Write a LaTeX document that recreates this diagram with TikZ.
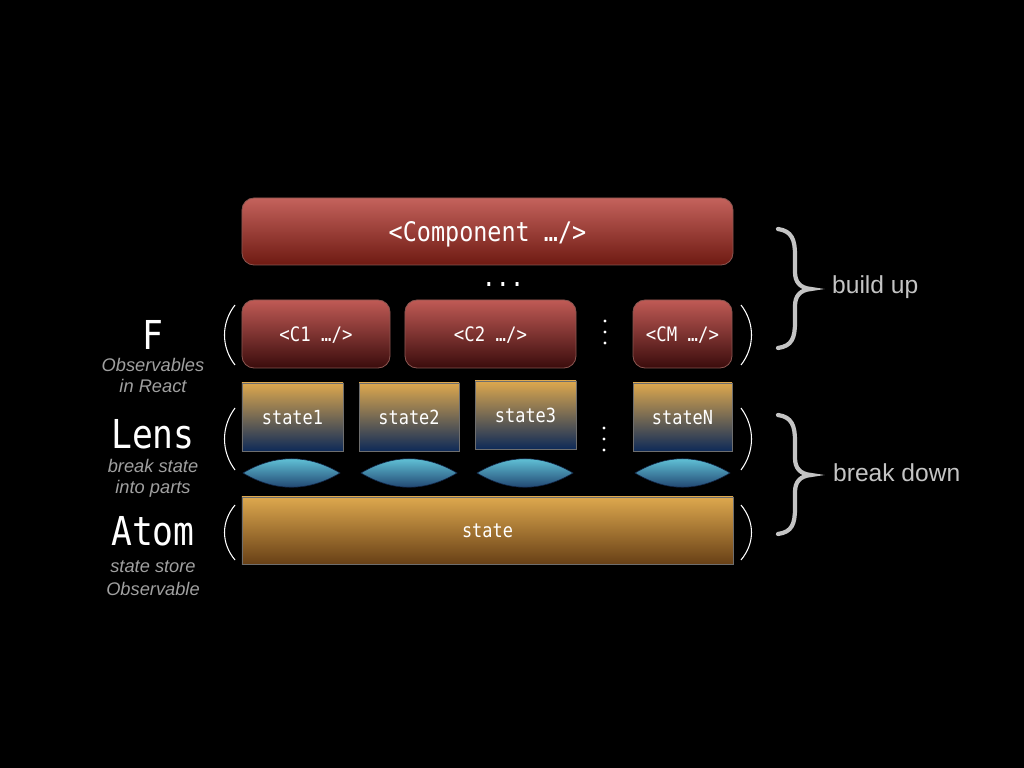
\documentclass[tikz,border=0pt]{standalone}
\usepackage{fontspec}
\setmainfont{Liberation Sans}
\newfontfamily\monof[FakeStretch=0.87]{DejaVu Sans Mono}
\definecolor{compTop}{HTML}{C4625C}
\definecolor{compBot}{HTML}{6E1A12}
\definecolor{cTop}{HTML}{C05A55}
\definecolor{cBot}{HTML}{3A0C0C}
\definecolor{redEdge}{HTML}{8A5550}
\definecolor{boxEdge}{HTML}{6E6E6E}
\definecolor{orTop}{HTML}{DDA84E}
\definecolor{blBot}{HTML}{0E2A58}
\definecolor{atBot}{HTML}{684016}
\definecolor{lensTop}{HTML}{6AD4E6}
\definecolor{lensBot}{HTML}{183462}
\definecolor{labgray}{HTML}{A0A0A0}
\definecolor{bracegray}{HTML}{C4C4C4}
\tikzset{
  boxbase/.style={inner sep=0pt, text=white, text depth=0pt, line width=0.7pt},
  compbox/.style={boxbase, rounded corners=0.36cm, top color=compTop, bottom color=compBot, draw=redEdge,
    font=\monof\fontsize{23}{27}\selectfont, text height=16.8pt},
  cbox/.style={boxbase, rounded corners=0.36cm, top color=cTop, bottom color=cBot, draw=redEdge,
    font=\monof\fontsize{17}{20}\selectfont, text height=12.4pt, minimum height=2.04cm},
  statebox/.style={boxbase, top color=orTop, bottom color=blBot, draw=boxEdge,
    font=\monof\fontsize{16.6}{20}\selectfont, text height=12.1pt, minimum height=2.04cm},
  atombox/.style={boxbase, top color=orTop, bottom color=atBot, draw=boxEdge,
    font=\monof\fontsize{16.6}{20}\selectfont, text height=12.1pt},
  lensshape/.style={top color=lensTop, bottom color=lensBot, draw=lensBot!70!black, line width=0.5pt},
  bigname/.style={anchor=base, text=white, font=\monof\fontsize{34}{40}\selectfont},
  sublabel/.style={anchor=base, text=labgray, font=\itshape\fontsize{15.6}{18}\selectfont},
  sidelabel/.style={anchor=west, text=bracegray, font=\fontsize{21}{25}\selectfont},
  parst/.style={draw=white, line width=0.9pt},
  bracest/.style={draw=bracegray, line width=3.6pt, line cap=round},
  vdot/.style={fill=white, draw=none},
}
\begin{document}
\begin{tikzpicture}[x=0.03cm,y=-0.03cm]
\fill[black] (0,0) rectangle (1024,768);
\useasboundingbox (0,0) rectangle (1024,768);

% top component
\node[compbox, minimum width=14.73cm, minimum height=2.01cm] (comp) at (487.5,231.5) {<Component …/>};
\node[anchor=base, text=white, font=\monof\fontsize{23}{27}\selectfont] (hdots) at (503,287) {...};

% child components
\node[cbox, minimum width=4.44cm] (c1) at (316,334) {<C1 …/>};
\node[cbox, minimum width=5.13cm] (c2) at (490.5,334) {<C2 …/>};
\node[cbox, minimum width=2.97cm] (cm) at (682.5,334) {<CM …/>};
\fill[vdot] (605,321) circle (1.7) (605,332) circle (1.7) (605,343) circle (1.7);

% state parts
\node[statebox, minimum width=3.03cm] (s1) at (292.5,417) {state1};
\node[statebox, minimum width=3.0cm] (s2) at (409,417) {state2};
\node[statebox, minimum width=3.03cm] (s3) at (525.5,415) {state3};
\node[statebox, minimum width=2.97cm] (sn) at (682.5,417) {stateN};
\fill[vdot] (604,428) circle (1.7) (604,439) circle (1.7) (604,450) circle (1.7);

% lenses
\path[lensshape] (243,473) .. controls (275,454) and (308,454) .. (340,473) .. controls (308,492) and (275,492) .. (243,473) -- cycle;
\path[lensshape] (361,473) .. controls (393,454) and (425,454) .. (457,473) .. controls (425,492) and (393,492) .. (361,473) -- cycle;
\path[lensshape] (477,473) .. controls (509,454) and (541,454) .. (573,473) .. controls (541,492) and (509,492) .. (477,473) -- cycle;
\path[lensshape] (635,473) .. controls (667,454) and (698,454) .. (730,473) .. controls (698,492) and (667,492) .. (635,473) -- cycle;

% atom
\node[atombox, minimum width=14.73cm, minimum height=2.01cm] (atom) at (487.5,530.5) {state};

% parentheses
\draw[parst] (235,305) .. controls (221,323) and (221,347) .. (235,365);
\draw[parst] (741,305) .. controls (755,323) and (755,347) .. (741,365);
\draw[parst] (235,408) .. controls (221,427) and (221,451) .. (235,470);
\draw[parst] (741,408) .. controls (755,427) and (755,451) .. (741,470);
\draw[parst] (235,505) .. controls (221,522) and (221,543) .. (235,560);
\draw[parst] (741,505) .. controls (755,522) and (755,543) .. (741,560);

% left labels
\node[bigname] (lf) at (153,350) {F};
\node[sublabel] (lf1) at (153,371.5) {Observables};
\node[sublabel] (lf2) at (153,392.5) {in React};
\node[bigname] (ll) at (153,449) {Lens};
\node[sublabel] (ll1) at (153,472.5) {break state};
\node[sublabel] (ll2) at (153,493.5) {into parts};
\node[bigname] (la) at (153,546) {Atom};
\node[sublabel] (la1) at (153,573) {state store};
\node[sublabel] (la2) at (153,595) {Observable};

% braces
\draw[bracest] (778,229) .. controls (792,231) and (795,240) .. (795,255) -- (795,272) .. controls (795,282) and (800,288) .. (811,289) .. controls (800,290) and (795,296) .. (795,306) -- (795,322) .. controls (795,338) and (792,346) .. (778,348);
\node[sidelabel] (bu) at (828,287) {build up};
\begin{scope}[yshift=-186*0.03cm]
\draw[bracest] (778,229) .. controls (792,231) and (795,240) .. (795,255) -- (795,272) .. controls (795,282) and (800,288) .. (811,289) .. controls (800,290) and (795,296) .. (795,306) -- (795,322) .. controls (795,338) and (792,346) .. (778,348);
\end{scope}
\node[sidelabel] (bd) at (829,473) {break down};
\end{tikzpicture}
\end{document}
